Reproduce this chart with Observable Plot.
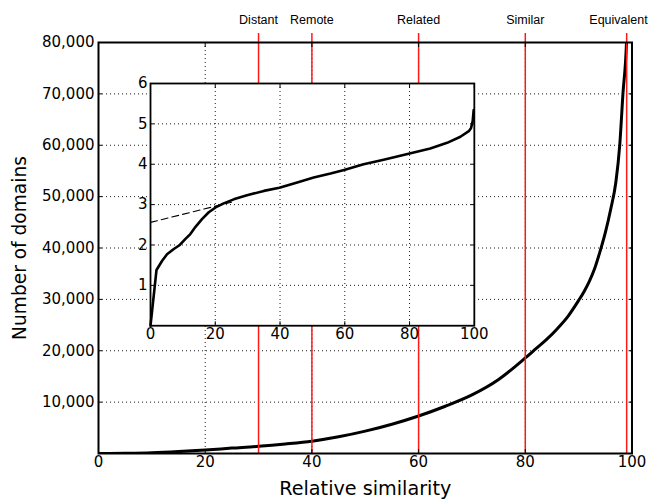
<!DOCTYPE html>
<html><head><meta charset="utf-8">
<script src="https://cdn.jsdelivr.net/npm/d3@7"></script>
<script src="https://cdn.jsdelivr.net/npm/@observablehq/plot@0.6"></script>
<style>
html,body{margin:0;padding:0;background:#fff;overflow:hidden}
#wrap{position:relative;width:650px;height:499px}
#wrap svg{position:absolute;overflow:visible}
</style></head><body><div id="wrap"></div>
<script>
// ---- data ----
const simX = [0, 5, 10, 15, 20, 25, 30, 35, 40, 45, 50, 55, 60, 65, 70, 75, 80, 82, 84, 86, 88, 90, 91, 92, 93, 94, 95, 96, 97, 97.7, 98.3, 99, 99.5, 100];
const domains = [0, 40, 140, 370, 680, 1050, 1400, 1850, 2400, 3250, 4350, 5700, 7300, 9200, 11400, 14400, 18600, 20400, 22200, 24300, 26700, 29800, 31500, 33500, 36000, 39300, 43000, 47500, 53000, 60000, 70000, 81000, 117000, 220000];

const logX = [0, 1.85, 3.6, 5.1, 7.2, 9.05, 10.8, 12.3, 13.9, 15.9, 18.0, 20.1, 22.6, 25.7, 29.8, 35, 39.8, 45.3, 50.4, 55.6, 59.8, 65.8, 72, 79.7, 86.4, 91.6, 95.7, 98.3, 99, 99.5, 99.8];
const logDomains = [0, 1.38, 1.61, 1.77, 1.90, 2.0, 2.15, 2.27, 2.45, 2.64, 2.81, 2.93, 3.03, 3.13, 3.23, 3.34, 3.42, 3.55, 3.67, 3.77, 3.86, 4.0, 4.11, 4.26, 4.39, 4.53, 4.68, 4.82, 4.90, 5.07, 5.34];

const trendX = [0, 25];
const trendY = [2.56, 3.06];

const levelNames = ["Distant", "Remote", "Related", "Similar", "Equivalent"];
const levelX = [30, 40, 60, 80, 99];

const mainXTicks = [0, 20, 40, 60, 80, 100];
const mainYTicks = [10000, 20000, 30000, 40000, 50000, 60000, 70000, 80000];
const mainGridX = [20, 40, 60, 80];
const mainGridY = [10000, 20000, 30000, 40000, 50000, 60000, 70000];
const insetXTicks = [0, 20, 40, 60, 80, 100];
const insetYTicks = [1, 2, 3, 4, 5, 6];
const insetGridX = [20, 40, 60, 80];
const insetGridY = [1, 2, 3, 4, 5];
const insetExtentX = [9.7, 70.4];
const insetExtentY = [24900, 72050];

// ---- build ----
const mainData = simX.map((x, i) => ({x, y: domains[i]}));
const insetData = logX.map((x, i) => ({x, y: logDomains[i]}));
const trendData = trendX.map((x, i) => ({x, y: trendY[i]}));
const levels = levelNames.map((name, i) => ({name, x: levelX[i]}));

const font = "DejaVu Sans, sans-serif";
const labelFont = "Liberation Sans, Arial, sans-serif";
const dotted = {stroke: "black", strokeOpacity: 1, strokeWidth: 0.9, strokeDasharray: "1,3"};
const fmt = d3.format(",");
const blank = () => "";

const main = Plot.plot({
  width: 650, height: 499,
  marginLeft: 98, marginRight: 18.5, marginTop: 42, marginBottom: 46,
  style: {fontFamily: font, fontSize: "15px", color: "black", background: "transparent", overflow: "visible"},
  x: {domain: [0, 100], label: null},
  y: {domain: [0, 80000], label: null},
  marks: [
    Plot.gridY(mainGridY, dotted),
    Plot.gridX(mainGridX, dotted),
    Plot.line(mainData, {x: "x", y: "y", stroke: "black", strokeWidth: 3, curve: "monotone-x", clip: true}),
    Plot.ruleX(levels, {x: "x", stroke: "#ff1a1a", strokeWidth: 1.5, insetTop: -9}),
    Plot.frame({stroke: "black", strokeWidth: 2}),
    Plot.axisX(mainXTicks, {tickSize: 0, tickPadding: 3, fontSize: 15, label: null}),
    Plot.axisX(mainXTicks, {tickSize: 4, dy: -4, tickFormat: blank, label: null}),
    Plot.axisX(mainXTicks, {anchor: "top", tickSize: 4, dy: 4, tickFormat: blank, label: null}),
    Plot.axisY(mainYTicks, {tickSize: 0, tickPadding: 4, tickFormat: fmt, fontSize: 15, label: null}),
    Plot.axisY(mainYTicks, {tickSize: 4, dx: 4, tickFormat: blank, label: null}),
    Plot.axisY(mainYTicks, {anchor: "right", tickSize: 4, dx: -4, tickFormat: blank, label: null}),
    Plot.text(["Relative similarity"], {text: d => d, frameAnchor: "bottom", lineAnchor: "middle", textAnchor: "middle", dy: 35.5, fontSize: 19.2}),
    Plot.text(["Number of domains"], {text: d => d, frameAnchor: "left", textAnchor: "middle", lineAnchor: "middle", rotate: -90, dx: -78, fontSize: 18.6}),
    Plot.text(levels.slice(0, 4), {x: "x", text: "name", frameAnchor: "top", lineAnchor: "middle", textAnchor: "middle", dy: -23, fontFamily: labelFont, fontSize: 12.5}),
    Plot.text(levels.slice(4), {x: "x", text: "name", frameAnchor: "top", lineAnchor: "middle", dy: -23, dx: 21, textAnchor: "end", fontFamily: labelFont, fontSize: 12.5})
  ]
});
main.style.left = "0px"; main.style.top = "0px";
const wrap = document.getElementById("wrap");
wrap.appendChild(main);

// inset placement from the main plot's own scales
const sx = main.scale("x"), sy = main.scale("y");
const px0 = sx.apply(insetExtentX[0]), px1 = sx.apply(insetExtentX[1]);
const py0 = sy.apply(insetExtentY[1]), py1 = sy.apply(insetExtentY[0]);
const mL = 24, mR = 16, mT = 12, mB = 26;

const inset = Plot.plot({
  width: (px1 - px0) + mL + mR, height: (py1 - py0) + mT + mB,
  marginLeft: mL, marginRight: mR, marginTop: mT, marginBottom: mB,
  style: {fontFamily: font, fontSize: "15px", color: "black", background: "transparent", overflow: "visible"},
  x: {domain: [0, 100], label: null},
  y: {domain: [0, 6], label: null},
  marks: [
    Plot.frame({fill: "white", stroke: "none"}),
    Plot.gridX(insetGridX, dotted),
    Plot.gridY(insetGridY, dotted),
    Plot.line(trendData, {x: "x", y: "y", stroke: "black", strokeWidth: 1.1, strokeDasharray: "7,4"}),
    Plot.line(insetData, {x: "x", y: "y", stroke: "black", strokeWidth: 2.6, strokeLinejoin: "round"}),
    Plot.frame({stroke: "black", strokeWidth: 1.8}),
    Plot.axisX(insetXTicks, {tickSize: 0, tickPadding: 3, fontSize: 15, label: null}),
    Plot.axisX(insetXTicks, {tickSize: 4, dy: -4, tickFormat: blank, label: null}),
    Plot.axisX(insetXTicks, {anchor: "top", tickSize: 4, dy: 4, tickFormat: blank, label: null}),
    Plot.axisY(insetYTicks, {tickSize: 0, tickPadding: 3, fontSize: 15, label: null}),
    Plot.axisY(insetYTicks, {tickSize: 4, dx: 4, tickFormat: blank, label: null}),
    Plot.axisY(insetYTicks, {anchor: "right", tickSize: 4, dx: -4, tickFormat: blank, label: null})
  ]
});
inset.style.left = (px0 - mL) + "px";
inset.style.top = (py0 - mT) + "px";
wrap.appendChild(inset);
</script>
</body></html>
